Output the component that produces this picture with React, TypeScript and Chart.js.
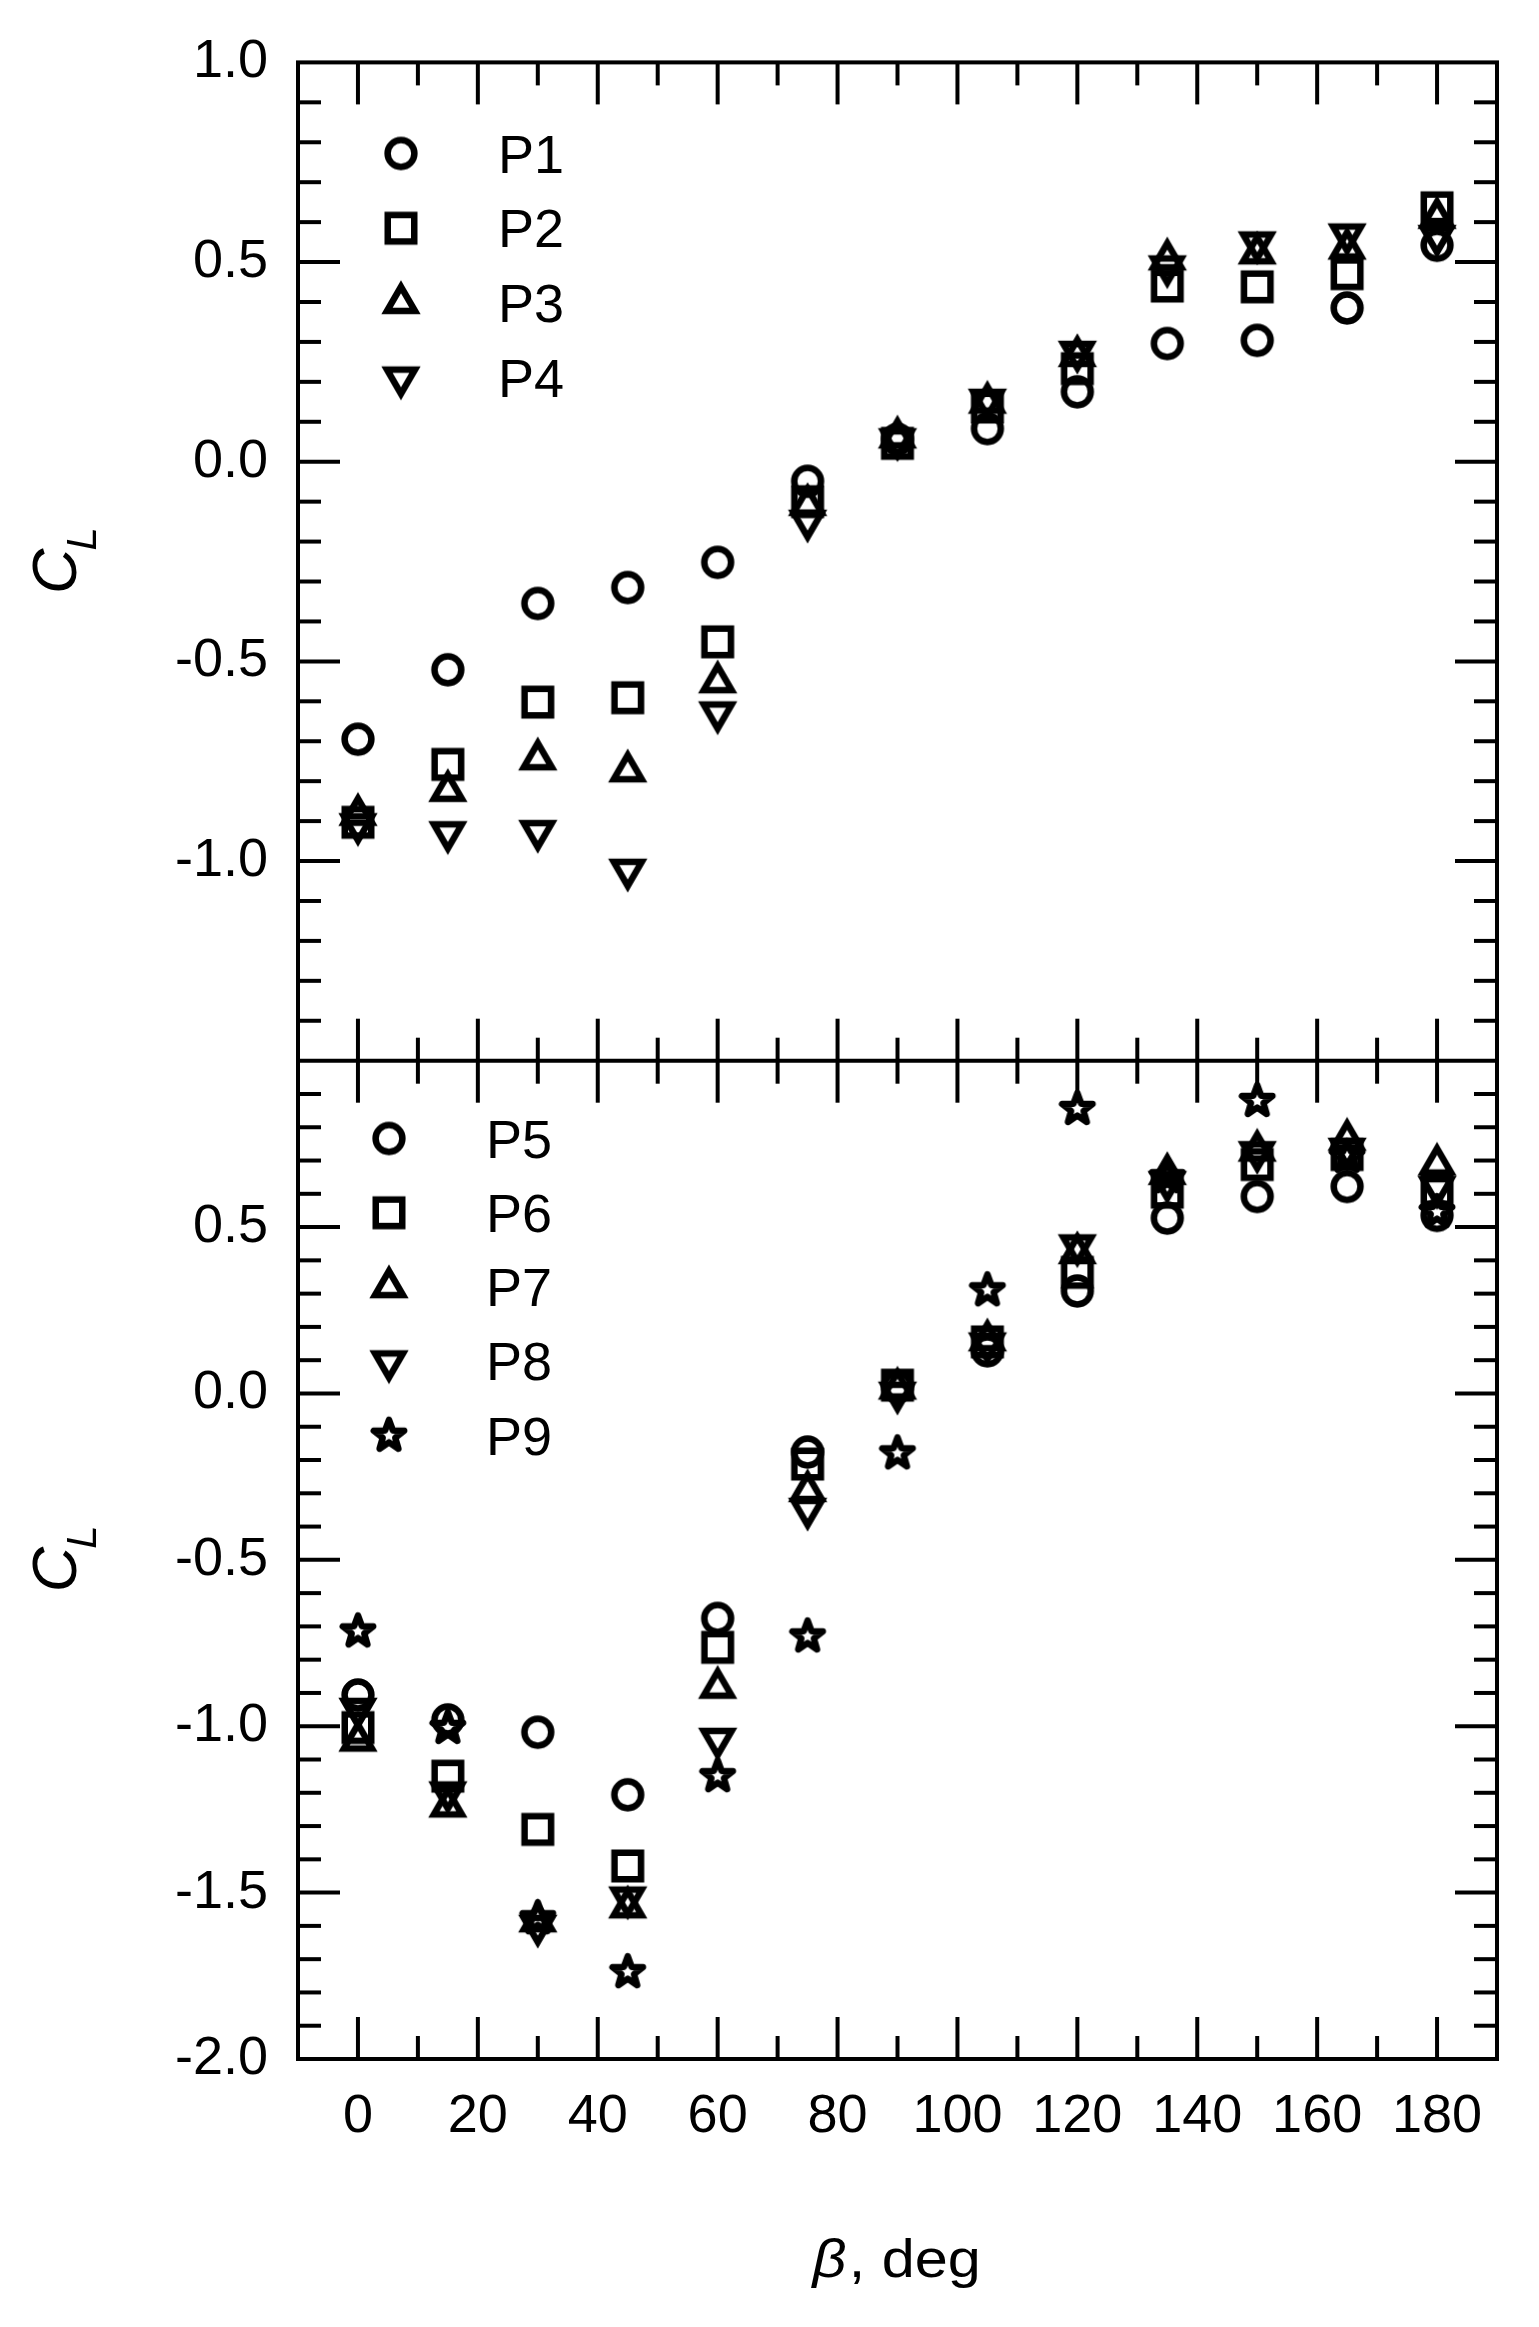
import React, { useEffect, useRef } from "react";
import { Chart, registerables } from "chart.js";

Chart.register(...registerables);

// ---------------- data ----------------
const BETA = [0, 15, 30, 45, 60, 75, 90, 105, 120, 135, 150, 165, 180];

// upper panel
const P1 = [-0.695, -0.521, -0.355, -0.315, -0.252, -0.049, 0.056, 0.083, 0.175, 0.296, 0.304, 0.385, 0.542];
const P2 = [-0.903, -0.758, -0.602, -0.591, -0.451, -0.1, 0.046, 0.137, 0.233, 0.44, 0.438, 0.471, 0.636];
const P3 = [-0.884, -0.824, -0.745, -0.775, -0.552, -0.108, 0.061, 0.148, 0.265, 0.507, 0.522, 0.534, 0.611];
const P4 = [-0.908, -0.928, -0.925, -1.022, -0.628, -0.148, 0.056, 0.155, 0.275, 0.489, 0.549, 0.569, 0.565];

// lower panel
const P5 = [-0.906, -0.981, -1.018, -1.206, -0.676, -0.176, 0.02, 0.128, 0.308, 0.527, 0.592, 0.622, 0.535];
const P6 = [-1.004, -1.15, -1.31, -1.42, -0.763, -0.212, 0.025, 0.155, 0.364, 0.605, 0.688, 0.718, 0.61];
const P7 = [-1.043, -1.241, -1.586, -1.544, -0.884, -0.293, 0.015, 0.16, 0.422, 0.66, 0.73, 0.763, 0.688];
const P8 = [-0.948, -1.199, -1.6, -1.515, -1.038, -0.347, 0.002, 0.15, 0.445, 0.635, 0.725, 0.735, 0.62];
const P9 = [-0.715, -1.005, -1.577, -1.739, -1.15, -0.73, -0.18, 0.31, 0.855, 0.65, 0.879, 0.711, 0.545];

const TOP_NAMES = ["P1", "P2", "P3", "P4"];
const BOT_NAMES = ["P5", "P6", "P7", "P8", "P9"];

// tick labels
const X_TICKS = [0, 20, 40, 60, 80, 100, 120, 140, 160, 180];
const X_MINOR = [10, 30, 50, 70, 90, 110, 130, 150, 170];
const Y_TOP_TICKS = [-1.0, -0.5, 0.0, 0.5, 1.0];
const Y_BOT_TICKS = [-2.0, -1.5, -1.0, -0.5, 0.0, 0.5];

const X_TITLE_SYMBOL = "β";
const X_TITLE_REST = ", deg";
const Y_TITLE_MAIN = "C";
const Y_TITLE_SUB = "L";

const FONT = "'Liberation Sans', Arial, Helvetica, sans-serif";

type Kind = "circle" | "square" | "triUp" | "triDown" | "star";

function makeMarker(kind: Kind): HTMLCanvasElement {
  const c = document.createElement("canvas");
  c.width = 60;
  c.height = 60;
  const g = c.getContext("2d") as CanvasRenderingContext2D;
  g.translate(30, 30);
  g.strokeStyle = "#000";
  g.lineWidth = 6.5;
  g.lineJoin = kind === "star" ? "round" : "miter";
  g.beginPath();
  if (kind === "circle") {
    g.arc(0, 0, 13.4, 0, Math.PI * 2);
  } else if (kind === "square") {
    g.rect(-13.25, -13.25, 26.5, 26.5);
  } else if (kind === "triUp" || kind === "triDown") {
    const s = kind === "triUp" ? 1 : -1;
    const r = 16.2;
    g.moveTo(0, -r * s);
    g.lineTo(r * 0.8660254, 0.5 * r * s);
    g.lineTo(-r * 0.8660254, 0.5 * r * s);
    g.closePath();
  } else {
    const R = 16;
    const rr = 6.6;
    for (let i = 0; i < 10; i++) {
      const a = -Math.PI / 2 + (i * Math.PI) / 5;
      const rad = i % 2 === 0 ? R : rr;
      const px = rad * Math.cos(a);
      const py = rad * Math.sin(a);
      if (i === 0) g.moveTo(px, py);
      else g.lineTo(px, py);
    }
    g.closePath();
  }
  g.stroke();
  return c;
}

export default function App() {
  const ref = useRef<HTMLCanvasElement | null>(null);

  useEffect(() => {
    const canvas = ref.current;
    if (!canvas) return;

    const markers: Record<Kind, HTMLCanvasElement> = {
      circle: makeMarker("circle"),
      square: makeMarker("square"),
      triUp: makeMarker("triUp"),
      triDown: makeMarker("triDown"),
      star: makeMarker("star"),
    };

    const topSeries: { name: string; values: number[]; kind: Kind }[] = [
      { name: TOP_NAMES[0], values: P1, kind: "circle" },
      { name: TOP_NAMES[1], values: P2, kind: "square" },
      { name: TOP_NAMES[2], values: P3, kind: "triUp" },
      { name: TOP_NAMES[3], values: P4, kind: "triDown" },
    ];
    const botSeries: { name: string; values: number[]; kind: Kind }[] = [
      { name: BOT_NAMES[0], values: P5, kind: "circle" },
      { name: BOT_NAMES[1], values: P6, kind: "square" },
      { name: BOT_NAMES[2], values: P7, kind: "triUp" },
      { name: BOT_NAMES[3], values: P8, kind: "triDown" },
      { name: BOT_NAMES[4], values: P9, kind: "star" },
    ];

    const mkDs = (s: { name: string; values: number[]; kind: Kind }, axis: string) => ({
      label: s.name,
      data: BETA.map((b, i) => ({ x: b, y: s.values[i] })),
      yAxisID: axis,
      pointStyle: markers[s.kind],
      pointRadius: 14,
      pointHoverRadius: 14,
      showLine: false,
    });

    const datasets = [
      ...topSeries.map((s) => mkDs(s, "yTop")),
      ...botSeries.map((s) => mkDs(s, "yBot")),
    ];

    const framePlugin = {
      id: "framePlugin",
      afterDraw(chart: any) {
        const { ctx, chartArea } = chart;
        const xs = chart.scales.x;
        const yT = chart.scales.yTop;
        const yB = chart.scales.yBot;
        const L = chartArea.left;
        const R = chartArea.right;
        const T = chartArea.top;
        const B = chartArea.bottom;
        const M = yT.bottom;
        const MAJ = 42;
        const MIN = 23;
        ctx.save();
        ctx.strokeStyle = "#000";
        ctx.lineCap = "butt";
        const line = (x1: number, y1: number, x2: number, y2: number) => {
          ctx.beginPath();
          ctx.moveTo(x1, y1);
          ctx.lineTo(x2, y2);
          ctx.stroke();
        };
        // ticks
        ctx.lineWidth = 4;
        const yTicks = (scale: any, min: number, max: number) => {
          const k0 = Math.round(min * 10) + 1;
          const k1 = Math.round(max * 10);
          for (let k = k0; k < k1; k++) {
            const major = k % 5 === 0;
            const len = major ? MAJ : MIN;
            const py = scale.getPixelForValue(k / 10);
            line(L, py, L + len, py);
            line(R, py, R - len, py);
          }
        };
        yTicks(yT, -1.5, 1.0);
        yTicks(yB, -2.0, 1.0);
        const xTick = (v: number, len: number) => {
          const px = xs.getPixelForValue(v);
          line(px, T, px, T + len);
          line(px, M - len, px, M + len);
          line(px, B, px, B - len);
        };
        X_TICKS.forEach((v) => xTick(v, MAJ));
        X_MINOR.forEach((v) => xTick(v, MIN));
        // frame
        ctx.lineWidth = 4;
        ctx.lineJoin = "miter";
        ctx.strokeRect(L, T, R - L, B - T);
        line(L, M, R, M);

        // y titles C_L
        ctx.fillStyle = "#000";
        const drawYTitle = (cy: number) => {
          ctx.save();
          ctx.translate(76, cy);
          ctx.rotate(-Math.PI / 2);
          ctx.textBaseline = "alphabetic";
          ctx.textAlign = "left";
          ctx.font = `italic 63px ${FONT}`;
          const wC = ctx.measureText(Y_TITLE_MAIN).width;
          ctx.font = `italic 42px ${FONT}`;
          const wL = ctx.measureText(Y_TITLE_SUB).width;
          const start = -(wC + wL) / 2;
          ctx.font = `italic 63px ${FONT}`;
          ctx.fillText(Y_TITLE_MAIN, start, 0);
          ctx.font = `italic 42px ${FONT}`;
          ctx.fillText(Y_TITLE_SUB, start + wC - 2, 20);
          ctx.restore();
        };
        drawYTitle((yT.top + yT.bottom) / 2 - 2);
        drawYTitle((yB.top + yB.bottom) / 2 - 2);

        // x title (slightly widened glyphs, as in the reference)
        ctx.save();
        ctx.textBaseline = "alphabetic";
        ctx.textAlign = "left";
        ctx.font = `italic 53px ${FONT}`;
        const wb = ctx.measureText(X_TITLE_SYMBOL).width;
        ctx.font = `53px ${FONT}`;
        const wr = ctx.measureText(X_TITLE_REST).width;
        const sxScale = 1.12;
        const cx = (L + R) / 2 - 2;
        ctx.translate(cx, 2277);
        ctx.scale(sxScale, 1);
        const sx = -(wb + wr) / 2;
        ctx.font = `italic 53px ${FONT}`;
        ctx.fillText(X_TITLE_SYMBOL, sx, 0);
        ctx.font = `53px ${FONT}`;
        ctx.fillText(X_TITLE_REST, sx + wb + 2, 0);
        ctx.restore();

        // legends
        const drawLegend = (series: { name: string; kind: Kind }[], mx: number, tx: number, y0: number, dy: number) => {
          ctx.font = `54px ${FONT}`;
          ctx.textAlign = "left";
          ctx.textBaseline = "alphabetic";
          series.forEach((s, i) => {
            const cy = y0 + i * dy;
            ctx.drawImage(markers[s.kind], mx - 30, cy - 30);
            ctx.fillText(s.name, tx, cy + 19);
          });
        };
        drawLegend(topSeries, 401, 498, 153.5, 74.7);
        drawLegend(botSeries, 389, 486, 1138.5, 74.3);
        ctx.restore();
      },
    };

    const tickFont = { family: FONT, size: 54 };

    const chart = new Chart(canvas, {
      type: "scatter",
      data: { datasets: datasets as any },
      options: {
        responsive: false,
        animation: false,
        devicePixelRatio: 1,
        events: [],
        layout: { padding: { top: 59, right: 42, bottom: 0, left: 0 } },
        plugins: { legend: { display: false }, tooltip: { enabled: false } },
        scales: {
          x: {
            type: "linear",
            position: "bottom",
            min: -10,
            max: 190,
            grid: { display: false, drawTicks: false },
            border: { display: false },
            ticks: { font: tickFont, color: "#000", padding: 26, autoSkip: false, maxRotation: 0, minRotation: 0 },
            afterBuildTicks: (s: any) => {
              s.ticks = X_TICKS.map((v) => ({ value: v }));
            },
            afterFit: (s: any) => {
              s.height = 268;
            },
          },
          yBot: {
            type: "linear",
            position: "left",
            stack: "cl",
            stackWeight: 1,
            min: -2,
            max: 1,
            grid: { display: false, drawTicks: false },
            border: { display: false },
            ticks: { font: tickFont, color: "#000", padding: 30, callback: (v: any) => Number(v).toFixed(1) },
            afterBuildTicks: (s: any) => {
              s.ticks = Y_BOT_TICKS.map((v) => ({ value: v }));
            },
            afterFit: (s: any) => {
              s.width = 298;
            },
          },
          yTop: {
            type: "linear",
            position: "left",
            stack: "cl",
            stackWeight: 1,
            min: -1.5,
            max: 1,
            grid: { display: false, drawTicks: false },
            border: { display: false },
            ticks: { font: tickFont, color: "#000", padding: 30, callback: (v: any) => Number(v).toFixed(1) },
            afterBuildTicks: (s: any) => {
              s.ticks = Y_TOP_TICKS.map((v) => ({ value: v }));
            },
            afterFit: (s: any) => {
              s.width = 298;
            },
          },
        } as any,
      },
      plugins: [framePlugin],
    });

    return () => {
      chart.destroy();
    };
  }, []);

  return (
    <div style={{ position: "absolute", left: 0, top: 0, width: 1539, height: 2327, background: "#fff" }}>
      <canvas ref={ref} width={1539} height={2327} style={{ display: "block", width: 1539, height: 2327 }} />
    </div>
  );
}
